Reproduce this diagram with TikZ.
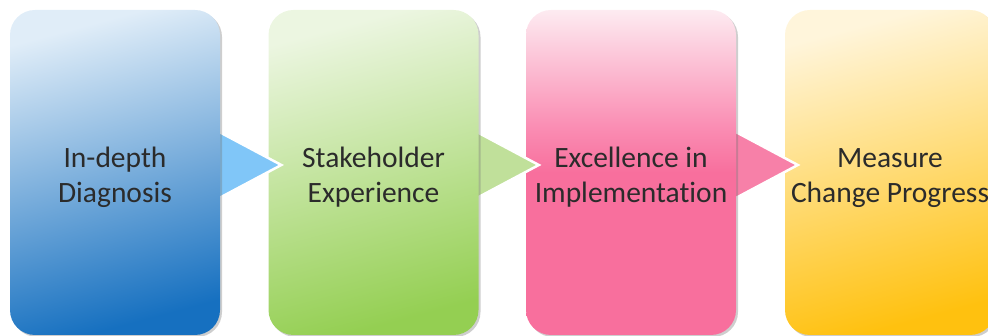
\documentclass[tikz,border=0pt]{standalone}
\usepackage{fontspec}
\setmainfont{Carlito}[Ligatures=NoCommon]
\usepackage{tikz}
\usetikzlibrary{shadows}
\usepackage{xcolor}

\definecolor{textgray}{HTML}{2B2B2B}
\definecolor{blueTop}{HTML}{E0EDF8}
\definecolor{blueMid}{HTML}{6AA8DC}
\definecolor{blueBot}{HTML}{1670C0}
\definecolor{greenTop}{HTML}{ECF6E1}
\definecolor{greenMid}{HTML}{BFE198}
\definecolor{greenBot}{HTML}{94CF52}
\definecolor{pinkTop}{HTML}{FDEBF1}
\definecolor{pinkMid}{HTML}{FA8DB3}
\definecolor{pinkBot}{HTML}{F86F9D}
\definecolor{yellowTop}{HTML}{FFF5DB}
\definecolor{yellowMid}{HTML}{FFDA70}
\definecolor{yellowBot}{HTML}{FFC10F}
\definecolor{blueTip}{HTML}{80C6F8}
\definecolor{greenTip}{HTML}{C0E09A}
\definecolor{pinkTip}{HTML}{F780A8}

% pink fades only in its upper part (path spans 25bp..75bp)
\pgfdeclareverticalshading{pinkfade}{100bp}{color(0bp)=(pinkBot); color(50bp)=(pinkBot);
  color(57bp)=(pinkMid); color(75bp)=(pinkTop); color(100bp)=(pinkTop)}

\begin{document}
\begin{tikzpicture}[x=1pt,y=1pt,
  stagebox/.style={rounded corners=25pt,minimum width=210pt,minimum height=325pt,
    inner sep=0pt,align=center,text=textgray,font=\fontsize{29.5}{35}\selectfont,
    text height=65pt,
    drop shadow={shadow xshift=2pt,shadow yshift=-2pt,opacity=0.35,fill=black!55}},
  pointer/.style={draw=white,line width=2.5pt,line join=miter}]
\useasboundingbox (0,0) rectangle (988,336);
\clip (0,0) rectangle (988,336);
% right to left, so each pointer lies over the next box and under its own
\node[stagebox,top color=yellowTop,middle color=yellowMid,bottom color=yellowBot,shading angle=15] (measure) at (890,163.5) {Measure\\Change Progress};
\path[pointer,fill=pinkTip] ([shift={(-55,43.7)}]measure.west) -- ([shift={(13,7.5)}]measure.west) -- ([shift={(-55,-28.7)}]measure.west) -- cycle;
\node[stagebox,shading=pinkfade] (excel) at (631,163.5) {Excellence in\\Implementation};
\path[pointer,fill=greenTip] ([shift={(-55,43.7)}]excel.west) -- ([shift={(13,7.5)}]excel.west) -- ([shift={(-55,-28.7)}]excel.west) -- cycle;
\node[stagebox,top color=greenTop,middle color=greenMid,bottom color=greenBot,shading angle=15] (stake) at (373.5,163.5) {Stakeholder\\Experience};
\path[pointer,fill=blueTip] ([shift={(-55,43.7)}]stake.west) -- ([shift={(13,7.5)}]stake.west) -- ([shift={(-55,-28.7)}]stake.west) -- cycle;
\node[stagebox,top color=blueTop,middle color=blueMid,bottom color=blueBot,shading angle=15] (diag) at (115,163.5) {In-depth\\Diagnosis};
\end{tikzpicture}
\end{document}
